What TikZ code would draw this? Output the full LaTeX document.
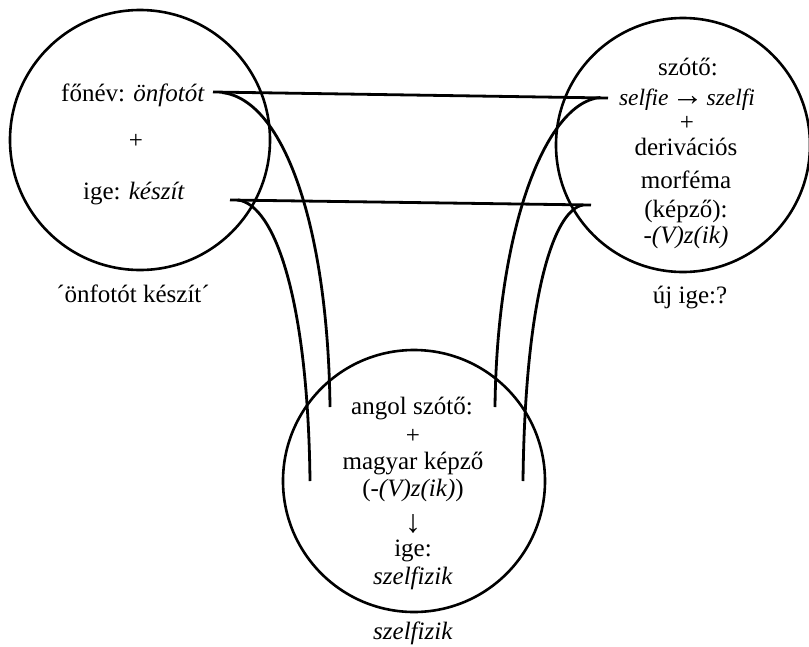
\documentclass[tikz,border=0pt]{standalone}
\usepackage{fontspec}
\setmainfont{Liberation Serif}
\newcommand{\bigarrowtxt}[1]{\smash{\fontsize{32}{28}\selectfont #1}}
\begin{document}
\begin{tikzpicture}[x=1pt,y=-1pt,
  bubble/.style={draw, circle, line width=2.6pt, inner sep=0pt, minimum size=#1},
  txt/.style={font=\fontsize{25}{28}\selectfont, inner sep=0pt, anchor=base},
  link/.style={line width=2.8pt, line cap=butt}]
\useasboundingbox (0,0) rectangle (809,646);
% circles
\node[bubble=260pt] (L) at (140,140) {};
\node[bubble=254pt] (R) at (683,145) {};
\node[bubble=262pt] (B) at (414,481) {};
% left circle text
\node[txt] (l1) at (133,101) {főnév: \textit{önfotót}};
\node[txt] (l2) at (136,148) {+};
\node[txt] (l3) at (134,199) {ige: \textit{készít}};
\node[txt] (l4) at (133,302) {´önfotót készít´};
% right circle text
\node[txt] (r1) at (688,75) {szótő:};
\node[txt, font=\fontsize{23.5}{28}\selectfont] (r2) at (687,105) {\textit{selfie}\kern3pt\bigarrowtxt{→}\kern3pt\textit{szelfi}};
\node[txt] (r3) at (687,130) {+};
\node[txt] (r4) at (686,155) {derivációs};
\node[txt] (r5) at (686,188) {morféma};
\node[txt] (r6) at (686,217) {(képző):};
\node[txt] (r7) at (686,243) {\textit{-(V)z(ik)}};
\node[txt] (r8) at (690,303) {új ige:?};
% bottom circle text
\node[txt] (b1) at (412,414) {angol szótő:};
\node[txt] (b2) at (413,443) {+};
\node[txt] (b3) at (413,469) {magyar képző};
\node[txt] (b4) at (413,496) {(\textit{-(V)z(ik)})};
\node[txt] (b5) at (413,532) {\bigarrowtxt{↓}};
\node[txt] (b6) at (413,556) {ige:};
\node[txt] (b7) at (413,584) {\textit{szelfizik}};
\node[txt] (b8) at (413,639) {\textit{szelfizik}};
% connector anchor points
\coordinate (t1) at (213,92);
\coordinate (t2) at (608,98);
\coordinate (s1) at (230,200);
\coordinate (s2) at (591,205);
\coordinate (tl) at (222,92.5);
\coordinate (tr) at (600,97.5);
\coordinate (sl) at (238,200);
\coordinate (sr) at (583,205);
\coordinate (bli) at (330,407);
\coordinate (blo) at (310,481);
\coordinate (bri) at (495,407);
\coordinate (bro) at (523,481);
% horizontal connectors
\draw[link] (t1) -- (t2);
\draw[link] (s1) -- (s2);
% curved connectors
\draw[link] (tl) .. controls (285,100) and (328,230) .. (bli);
\draw[link] (sl) .. controls (275,205) and (308,300) .. (blo);
\draw[link] (tr) .. controls (545,103) and (497,230) .. (bri);
\draw[link] (sr) .. controls (553,210) and (525,300) .. (bro);
\end{tikzpicture}
\end{document}
